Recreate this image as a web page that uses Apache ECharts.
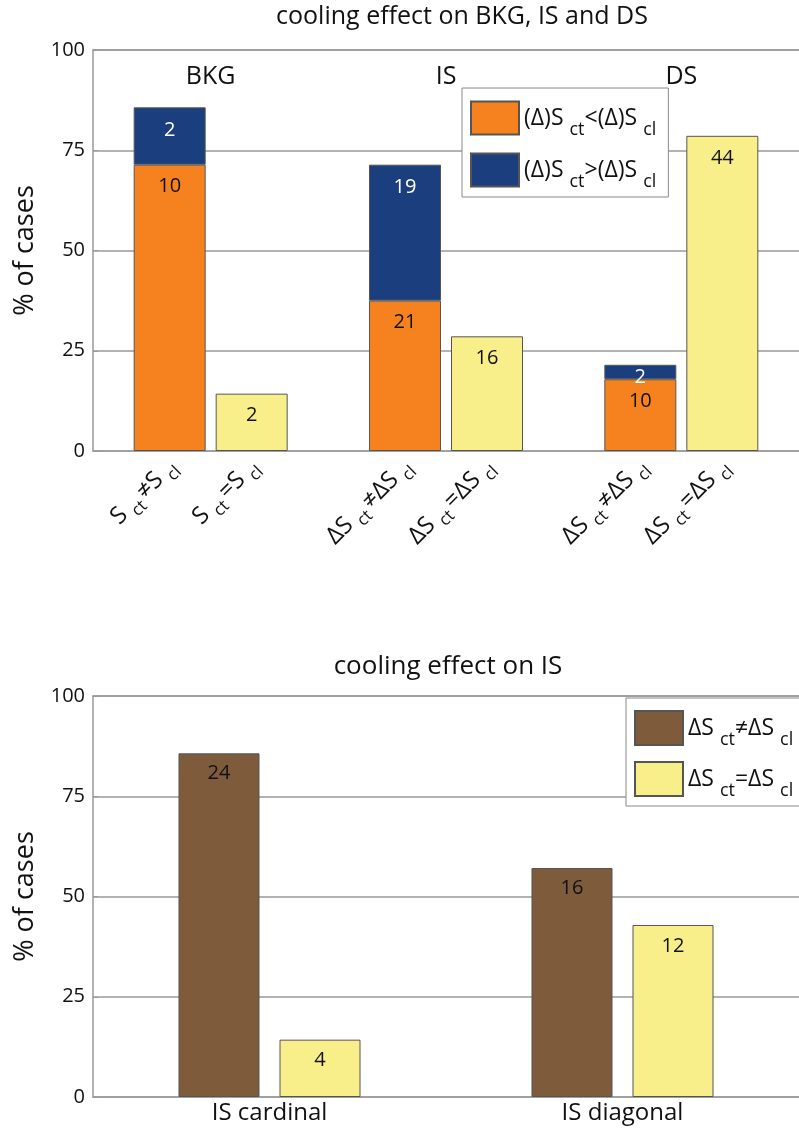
<!DOCTYPE html>
<html><head><meta charset="utf-8">
<script src="https://cdn.jsdelivr.net/npm/echarts@6/dist/echarts.min.js"></script>
<style>html,body{margin:0;padding:0;background:#fff}#c{width:799px;height:1129px}</style>
</head><body><div id="c"></div>
<script>
// ---- top chart data ----
const groups1 = ['BKG', 'IS', 'DS'];
const pctLess = [71.4, 37.5, 17.9];      // (Δ)S_ct < (Δ)S_cl
const pctGreater = [14.3, 33.9, 3.6];    // (Δ)S_ct > (Δ)S_cl
const pctEqual = [14.3, 28.6, 78.6];     // S_ct = S_cl
const cntLess = [10, 21, 10];
const cntGreater = [2, 19, 2];
const cntEqual = [2, 16, 44];
const neLabels = ['{m|S}{s|ct}{m|≠S}{s|cl}', '{m|ΔS}{s|ct}{m|≠ΔS}{s|cl}', '{m|ΔS}{s|ct}{m|≠ΔS}{s|cl}'];
const eqLabels = ['{m|S}{s|ct}{m|=S}{s|cl}', '{m|ΔS}{s|ct}{m|=ΔS}{s|cl}', '{m|ΔS}{s|ct}{m|=ΔS}{s|cl}'];
// ---- bottom chart data ----
const groups2 = ['IS cardinal', 'IS diagonal'];
const pctNe = [85.7, 57.1];
const pctEq = [14.3, 42.9];
const cntNe = [24, 16];
const cntEq = [4, 12];

const F = '"Open Sans"';
const ORANGE = '#f5821f', BLUE = '#1b3f7e', YELLOW = '#f8ef8a', BROWN = '#7d5b3b';
const AX = '#9a9a9a';
const barBorder = {borderColor: '#555', borderWidth: 1};

const legendNames = {
  lt: '{m|(Δ)S}{s|ct}{m|<(Δ)S}{s|cl}',
  gt: '{m|(Δ)S}{s|ct}{m|>(Δ)S}{s|cl}',
  ne: '{m|ΔS}{s|ct}{m|≠ΔS}{s|cl}',
  eq2: '{m|ΔS}{s|ct}{m|=ΔS}{s|cl}'
};
const legendRich = {
  m: {fontFamily: F, fontSize: 23, color: '#111'},
  s: {fontFamily: F, fontSize: 18, color: '#111', lineHeight: 6, padding: [24, 0, 0, 6]}
};
const axisRich = {
  m: {fontFamily: F, fontSize: 24, color: '#111'},
  s: {fontFamily: F, fontSize: 17, color: '#111', lineHeight: 8, padding: [18, 3, 0, 6]}
};

function valLabel(counts, color, dist) {
  return {show: true, position: 'insideTop', distance: dist, fontFamily: F, fontSize: 20, color: color,
    formatter: p => String(counts[p.dataIndex])};
}
function rotLabel(texts) {
  return {show: true, position: 'bottom', rotate: 45, align: 'right', verticalAlign: 'middle',
    distance: 12, offset: [5, 2], rich: axisRich, formatter: p => texts[p.dataIndex]};
}
function yAxis(gi) {
  return {type: 'value', gridIndex: gi, min: 0, max: 100, interval: 25,
    name: '% of cases', nameLocation: 'middle', nameGap: 54,
    nameTextStyle: {fontFamily: F, fontSize: 27, color: '#111'},
    axisLine: {show: true, lineStyle: {color: AX, width: 1.5}},
    axisTick: {show: true, inside: true, length: 5, lineStyle: {color: AX}},
    axisLabel: {fontFamily: F, fontSize: 20, color: '#111', margin: 8},
    splitLine: {show: true, lineStyle: {color: AX, width: 1.5}}};
}
const zeros1 = groups1.map(() => 0);

const option = {
  backgroundColor: '#fff',
  animation: false,
  graphic: [
    {type: 'text', x: 462, y: 4, style: {text: 'cooling effect on BKG, IS and DS', fontFamily: F, fontSize: 25, fill: '#111', textAlign: 'center'}},
    {type: 'text', x: 448, y: 654, style: {text: 'cooling effect on IS', fontFamily: F, fontSize: 26, fill: '#111', textAlign: 'center'}}
  ],
  grid: [
    {left: 93, top: 50, width: 714, height: 401},
    {left: 93, top: 696, width: 714, height: 401}
  ],
  legend: [
    {data: ['lt', 'gt'], orient: 'vertical', left: 462, top: 88, itemWidth: 48, itemHeight: 33, itemGap: 10,
     padding: [9, 12, 6, 8], borderColor: '#888', borderWidth: 1, backgroundColor: '#fff', icon: 'rect',
     formatter: n => legendNames[n], textStyle: {rich: legendRich}, selectedMode: false},
    {data: ['ne', 'eq2'], orient: 'vertical', left: 626, top: 698, itemWidth: 48, itemHeight: 34, itemGap: 9,
     padding: [9, 30, 6, 8], borderColor: '#888', borderWidth: 1, backgroundColor: '#fff', icon: 'rect',
     formatter: n => legendNames[n], textStyle: {rich: legendRich}, selectedMode: false}
  ],
  xAxis: [
    {type: 'category', gridIndex: 0, data: groups1, axisLabel: {show: false}, axisTick: {show: false},
     axisLine: {lineStyle: {color: AX, width: 1.5}}},
    {type: 'category', gridIndex: 0, position: 'top', data: groups1, axisTick: {show: false},
     axisLine: {show: true, lineStyle: {color: AX, width: 1.5}},
     axisLabel: {inside: true, margin: 14, fontFamily: F, fontSize: 25, color: '#111'}},
    {type: 'category', gridIndex: 1, data: groups2, axisTick: {show: false},
     axisLine: {lineStyle: {color: AX, width: 1.5}},
     axisLabel: {margin: 4, fontFamily: F, fontSize: 24, color: '#111'}},
    {type: 'category', gridIndex: 1, position: 'top', data: groups2, axisTick: {show: false},
     axisLine: {show: true, lineStyle: {color: AX, width: 1.5}}, axisLabel: {show: false}}
  ],
  yAxis: [yAxis(0), yAxis(1)],
  series: [
    {name: '_labNe', type: 'bar', xAxisIndex: 0, yAxisIndex: 0, stack: 'a', barWidth: 72, barGap: '13.9%',
     data: zeros1, itemStyle: {color: 'rgba(0,0,0,0)', borderWidth: 0}, label: rotLabel(neLabels), silent: true},
    {name: 'lt', type: 'bar', xAxisIndex: 0, yAxisIndex: 0, stack: 'a', barWidth: 72,
     data: pctLess, itemStyle: Object.assign({color: ORANGE}, barBorder), label: valLabel(cntLess, '#111', 12)},
    {name: 'gt', type: 'bar', xAxisIndex: 0, yAxisIndex: 0, stack: 'a', barWidth: 72,
     data: pctGreater.map(v => v < 5 ? {value: v, label: {distance: 3}} : v),
     itemStyle: Object.assign({color: BLUE}, barBorder), label: valLabel(cntGreater, '#fff', 13)},
    {name: '_labEq', type: 'bar', xAxisIndex: 0, yAxisIndex: 0, stack: 'b', barWidth: 72,
     data: zeros1, itemStyle: {color: 'rgba(0,0,0,0)', borderWidth: 0}, label: rotLabel(eqLabels), silent: true},
    {name: 'eq', type: 'bar', xAxisIndex: 0, yAxisIndex: 0, stack: 'b', barWidth: 72,
     data: pctEqual, itemStyle: Object.assign({color: YELLOW}, barBorder), label: valLabel(cntEqual, '#111', 12)},
    {name: 'ne', type: 'bar', xAxisIndex: 2, yAxisIndex: 1, barWidth: 81, barGap: '24.7%',
     data: pctNe, itemStyle: Object.assign({color: BROWN}, barBorder), label: valLabel(cntNe, '#111', 10)},
    {name: 'eq2', type: 'bar', xAxisIndex: 2, yAxisIndex: 1, barWidth: 81,
     data: pctEq, itemStyle: Object.assign({color: YELLOW}, barBorder), label: valLabel(cntEq, '#111', 11)}
  ]
};
const chart = echarts.init(document.getElementById('c'), null, {renderer: 'canvas'});
chart.setOption(option);
</script>
</body></html>
